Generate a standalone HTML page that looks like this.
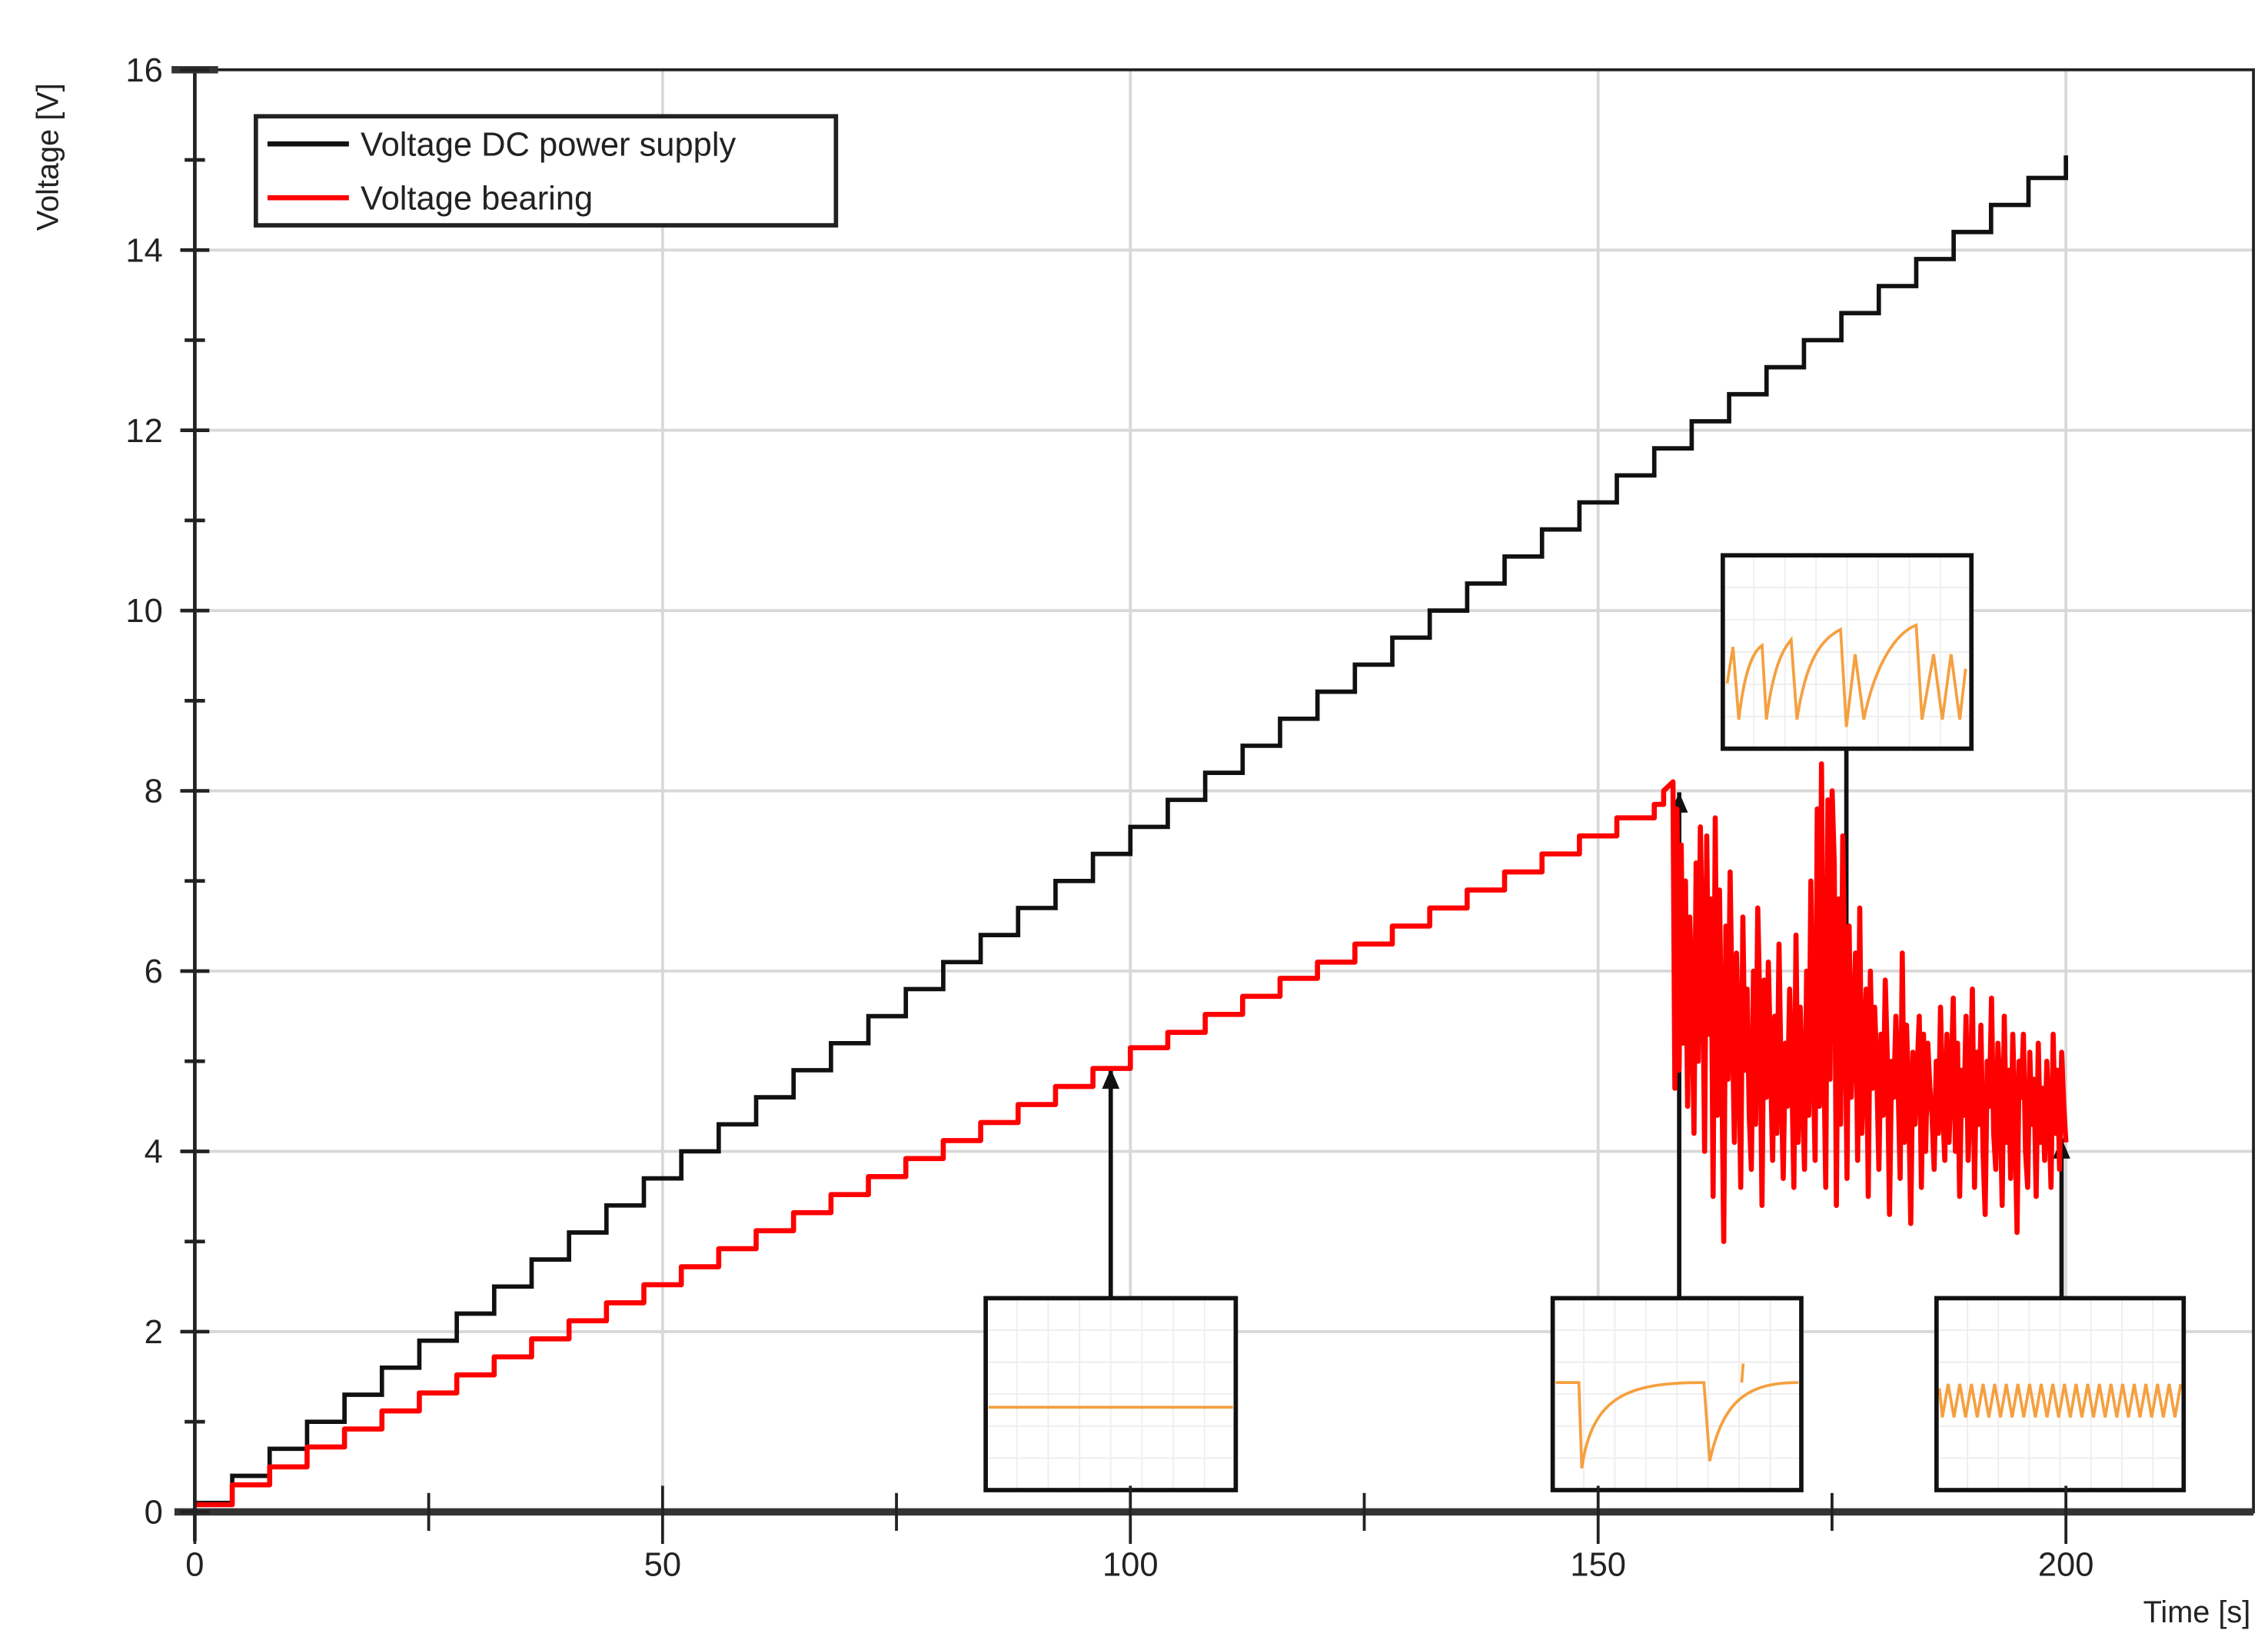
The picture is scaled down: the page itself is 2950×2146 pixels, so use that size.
<!DOCTYPE html>
<html><head><meta charset="utf-8"><style>
html,body{margin:0;padding:0;background:#fff;}
svg{display:block;}
text{font-family:"Liberation Sans",sans-serif;fill:#222;}
</style></head><body>
<svg id="chart" width="2950" height="2146" viewBox="0 0 1560 1135" preserveAspectRatio="none" xmlns="http://www.w3.org/2000/svg">
<g id="grid"></g>
<g id="insets"></g>
<g id="series"></g>
<g id="axes"></g>
<text transform="translate(40,108) rotate(-90)" text-anchor="middle" font-size="21">Voltage [V]</text>
<text x="1548" y="1116" text-anchor="end" font-size="21">Time [s]</text>
<g>
<rect x="176" y="80" width="399" height="75" fill="#fff" stroke="#222" stroke-width="3"/>
<line x1="184" y1="99" x2="240" y2="99" stroke="#111" stroke-width="3.5"/>
<text x="248" y="107" font-size="23">Voltage DC power supply</text>
<line x1="184" y1="136" x2="240" y2="136" stroke="#f00" stroke-width="3.5"/>
<text x="248" y="144" font-size="23">Voltage bearing</text>
</g>
</svg>
<script>
const NS="http://www.w3.org/2000/svg";
const xTicks=[0,50,100,150,200];
const yTicks=[0,2,4,6,8,10,12,14,16];
const stepDuration=4;
const dcSteps=[0.1,0.4,0.7,1.0,1.3,1.6,1.9,2.2,2.5,2.8,3.1,3.4,3.7,4.0,4.3,4.6,4.9,5.2,5.5,5.8,6.1,6.4,6.7,7.0,7.3,7.6,7.9,8.2,8.5,8.8,9.1,9.4,9.7,10.0,10.3,10.6,10.9,11.2,11.5,11.8,12.1,12.4,12.7,13.0,13.3,13.6,13.9,14.2,14.5,14.8,15.05];
const bearingSteps=[0.08,0.3,0.5,0.72,0.92,1.12,1.32,1.52,1.72,1.92,2.12,2.32,2.52,2.72,2.92,3.12,3.32,3.52,3.72,3.92,4.12,4.32,4.52,4.72,4.92,5.15,5.32,5.52,5.72,5.92,6.1,6.3,6.5,6.7,6.9,7.1,7.3,7.5,7.7,7.85];
const bearingPeakT=[157,158,158.2];
const bearingPeakV=[8.0,8.1,4.7];
const noiseStart=158.2, noiseEnd=200;
const bearingNoise=[4.7,7.8,4.9,7.4,5.2,7.0,4.5,6.6,5.8,4.2,7.2,5.0,7.6,6.3,4.0,7.5,5.3,6.8,3.5,7.7,4.4,6.9,5.1,3.0,6.5,4.8,7.1,5.5,4.1,6.2,5.2,3.6,6.6,4.9,5.8,4.4,3.8,6.0,4.3,6.7,5.6,3.4,5.9,4.6,6.1,5.0,3.9,5.5,4.2,6.3,4.8,3.7,5.2,4.5,5.8,4.9,3.6,6.4,4.1,5.6,4.7,3.8,6.0,4.4,7.0,5.1,3.9,7.8,4.5,8.3,5.2,3.6,7.9,4.8,8.0,7.2,3.4,6.8,4.3,7.5,5.9,3.7,6.5,4.6,5.4,6.2,3.9,6.7,4.2,5.1,5.8,3.5,6.0,4.7,5.6,4.9,3.8,5.3,4.4,5.9,5.0,3.3,5.0,4.6,5.5,4.8,3.7,6.2,4.1,5.4,4.6,3.2,5.1,4.3,4.9,5.5,3.6,5.3,4.0,5.2,4.7,4.4,3.8,5.0,4.2,5.6,4.5,3.9,5.3,4.1,4.8,5.7,4.0,5.2,3.5,4.9,4.4,5.5,3.9,4.6,5.8,3.6,5.1,4.3,5.4,4.0,3.3,5.0,4.5,5.7,4.2,3.8,5.2,4.7,3.4,5.5,4.1,4.9,3.7,5.3,4.4,3.1,5.0,4.6,5.3,4.0,3.6,5.1,4.3,4.8,3.5,5.2,4.1,4.7,3.9,5.0,4.4,3.6,5.3,4.2,4.9,3.8,5.1,4.5,4.1];
const X=t=>134+t*(1421-134)/200;
const Y=v=>1040-v*(1040-48)/16;
function mk(tag,attrs,parent){const e=document.createElementNS(NS,tag);for(const k in attrs)e.setAttribute(k,attrs[k]);parent.appendChild(e);return e;}
const grid=document.getElementById('grid'),axes=document.getElementById('axes'),series=document.getElementById('series'),insets=document.getElementById('insets');
yTicks.forEach(v=>{if(v===0||v===16)return;const l=mk('line',{x1:134,x2:1550,y1:Y(v),y2:Y(v),stroke:'#d8d8d8','stroke-width':2},grid);

});
xTicks.forEach(t=>{if(t===0)return;const l=mk('line',{x1:X(t),x2:X(t),y1:48,y2:1040,stroke:'#d8d8d8','stroke-width':2},grid);

});
const fr=mk('rect',{x:134,y:48,width:1416,height:992,fill:'none',stroke:'#222','stroke-width':2},axes);


const xa=mk('line',{x1:120,x2:1550,y1:1040,y2:1040,stroke:'#333','stroke-width':5},axes);


const ya=mk('line',{x1:134,x2:134,y1:48,y2:1060,stroke:'#222','stroke-width':2.5},axes);


const cap=mk('line',{x1:118,x2:150,y1:48,y2:48,stroke:'#333','stroke-width':5},axes);


xTicks.forEach(t=>{const l=mk('line',{x1:X(t),x2:X(t),y1:1022,y2:1062,stroke:'#222','stroke-width':2},axes);


const tx=mk('text',{x:X(t),y:1084,'text-anchor':'middle','font-size':23},axes);tx.textContent=t;


if(t<200){const m=mk('line',{x1:X(t+25),x2:X(t+25),y1:1027,y2:1053,stroke:'#222','stroke-width':2},axes);

}});
yTicks.forEach(v=>{const l=mk('line',{x1:124,x2:144,y1:Y(v),y2:Y(v),stroke:'#222','stroke-width':2.5},axes);


const tx=mk('text',{x:112,y:Y(v)+8,'text-anchor':'end','font-size':23},axes);tx.textContent=v;


if(v<16){const m=mk('line',{x1:127,x2:141,y1:Y(v+1),y2:Y(v+1),stroke:'#222','stroke-width':2.5},axes);

}});
function stairs(vals,endT){let d='';vals.forEach((v,i)=>{const t0=i*stepDuration,t1=Math.min((i+1)*stepDuration,endT);d+=(i?'L':'M')+X(t0)+','+Y(v)+'L'+X(t1)+','+Y(v);});return d;}
const dc=mk('path',{d:stairs(dcSteps,200),fill:'none',stroke:'#111','stroke-width':3},series);


let bd=stairs(bearingSteps,157);
bearingPeakT.forEach((t,i)=>{bd+='L'+X(t)+','+Y(bearingPeakV[i]);});
const dt=(noiseEnd-noiseStart)/(bearingNoise.length-1);
bearingNoise.forEach((v,i)=>{bd+='L'+X(noiseStart+i*dt)+','+Y(v);});
const br=mk('path',{d:bd,fill:'none',stroke:'#f00','stroke-width':3.5,'stroke-linejoin':'round'},series);


function inset(name,x,y,w,h,pathD,ax1,ay1,ax2,ay2){
 const g=mk('g',{},insets);
 
 
 mk('rect',{x:x,y:y,width:w,height:h,fill:'#fff'},g);
 for(let i=1;i<8;i++)mk('line',{x1:x+i*w/8,x2:x+i*w/8,y1:y,y2:y+h,stroke:'#eee','stroke-width':1},g);
 for(let i=1;i<6;i++)mk('line',{x1:x,x2:x+w,y1:y+i*h/6,y2:y+i*h/6,stroke:'#eee','stroke-width':1},g);
 mk('path',{d:pathD,fill:'none',stroke:'#f5a040','stroke-width':2},g);
 mk('rect',{x:x,y:y,width:w,height:h,fill:'none',stroke:'#111','stroke-width':3},g);
 const a=mk('line',{x1:ax1,y1:ay1,x2:ax2,y2:ay2,stroke:'#111','stroke-width':3},g);
 
 
 const dir=ay2<ay1?1:-1;
 mk('polygon',{points:`${ax2},${ay2} ${ax2-6},${ay2+dir*14} ${ax2+6},${ay2+dir*14}`,fill:'#111'},g);
}
inset('inset-linear',678,893,172,132,'M680,968 L848,968',764,893,764,735);
inset('inset-breakdown',1068,893,171,132,'M1070,951 L1086,951 L1088,1010 C1095,960 1120,951 1172,951 L1176,1005 C1185,965 1200,951 1237,951 M1198,951 L1199,938',1155,893,1155,545);
let zz='M1334,955';for(let i=0;i<42;i++){zz+=`L${1334+i*4+2},${i%2?952:975}`;}
inset('inset-oscillation',1332,893,170,132,zz,1418,893,1418,783);
inset('inset-sawtooth',1185,382,171,133,'M1188,470 L1192,445 L1196,495 C1200,460 1206,448 1212,444 L1215,495 C1220,455 1228,445 1232,440 L1236,495 C1242,455 1252,440 1266,433 L1270,500 L1276,450 L1282,495 C1290,455 1305,435 1318,430 L1322,495 L1330,450 L1336,495 L1342,450 L1348,495 L1352,460',1270,515,1270,718);
</script>
</body></html>
